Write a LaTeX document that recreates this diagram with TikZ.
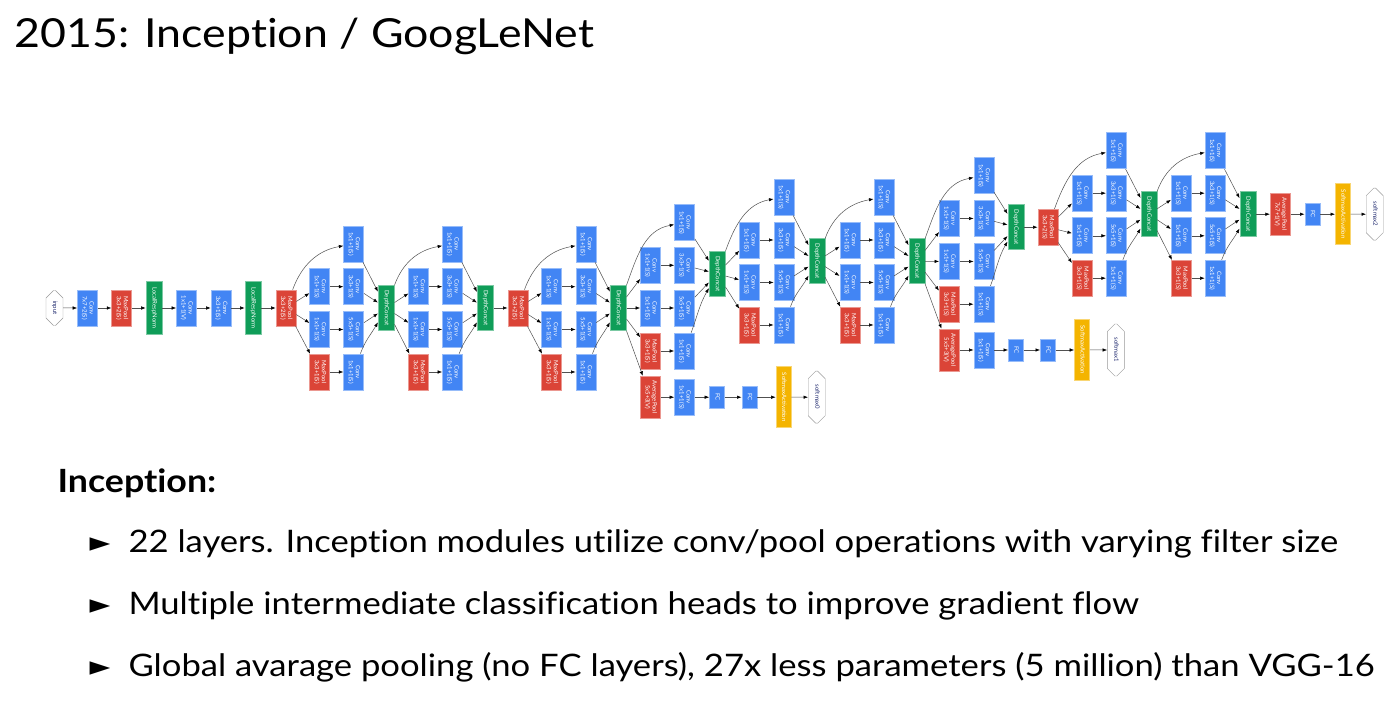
\documentclass[tikz,border=0pt]{standalone}
\usepackage{fontspec}
\setmainfont{Lato}
\newfontfamily\slidefont{Lato}[FakeStretch=1.117, Ligatures=NoCommon]
\newfontfamily\symfont{DejaVu Sans}
\usepackage{graphicx}
\usetikzlibrary{shapes.misc,arrows.meta,positioning}
\definecolor{convblue}{RGB}{66,133,244}
\definecolor{poolred}{RGB}{219,68,55}
\definecolor{concatgreen}{RGB}{15,157,88}
\definecolor{softyellow}{RGB}{244,180,0}
\definecolor{edgegray}{RGB}{80,80,80}
\definecolor{labelnavy}{RGB}{30,40,110}
\newcommand{\vlab}[1]{\rotatebox{-90}{\begin{tabular}{@{}c@{}}#1\end{tabular}}}

\begin{document}
\begin{tikzpicture}[x=1pt, y=1pt,
    layer/.style={rectangle, draw=#1!55!white, fill=#1, line width=0.6pt, text=white, inner sep=0pt, minimum width=20pt, minimum height=36pt, font=\fontsize{6}{7}\selectfont},
    conv/.style={layer=convblue},
    pool/.style={layer=poolred},
    avgpool/.style={layer=poolred, minimum height=42pt},
    concat/.style={layer=concatgreen, minimum width=16pt, minimum height=45pt},
    lrn/.style={layer=concatgreen, minimum width=16pt, minimum height=53pt},
    fc/.style={layer=convblue, minimum width=15pt, minimum height=22pt},
    softact/.style={layer=softyellow, minimum width=15pt, minimum height=61pt},
    blob/.style={chamfered rectangle, chamfered rectangle xsep=4pt, chamfered rectangle ysep=9pt, draw=black!40, fill=white, text=labelnavy, inner sep=0pt, minimum width=17pt, minimum height=52pt, font=\fontsize{6}{7}\selectfont},
    arrow/.style={-{Latex[length=4.5pt, width=3.4pt, color=black]}, draw=edgegray, line width=0.5pt},
    slide/.style={anchor=base west, font=\slidefont\fontsize{31}{36}\selectfont},
    bulletmark/.style={anchor=base west, font=\symfont\fontsize{27}{30}\selectfont}
  ]
    \useasboundingbox[fill=white] (0,0) rectangle (1395,720);

    % Slide text
    \node[anchor=base west, font=\slidefont\fontsize{40}{48}\selectfont] (title) at (11,672) {2015: Inception / GoogLeNet};
    \node[anchor=base west, font=\slidefont\fontsize{32}{36}\selectfont\bfseries] (head) at (54,227) {Inception:};
    \node[bulletmark] (mark1) at (86,168) {►};
    \node[slide] (point1) at (125,167) {22 layers. Inception modules utilize conv/pool operations with varying filter size};
    \node[bulletmark] (mark2) at (86,106) {►};
    \node[slide] (point2) at (125,105) {Multiple intermediate classification heads to improve gradient flow};
    \node[bulletmark] (mark3) at (86,44) {►};
    \node[slide] (point3) at (125,43) {Global avarage pooling (no FC layers), 27x less parameters (5 million) than VGG-16};

    % Stem
    \node[blob, minimum height=35pt] (input) at (54.5,412) {\vlab{input}};
    \node[conv] (conv1) at (87.5,412) {\vlab{Conv\\7x7+2(S)}};
    \node[pool] (pool1) at (121.7,412) {\vlab{MaxPool\\3x3+2(S)}};
    \node[lrn] (norm1) at (154,412) {\vlab{LocalRespNorm}};
    \node[conv] (conv2) at (186.5,412) {\vlab{Conv\\1x1+1(V)}};
    \node[conv] (conv3) at (221,412) {\vlab{Conv\\3x3+1(S)}};
    \node[lrn] (norm2) at (253,412) {\vlab{LocalRespNorm}};
    \node[pool] (pool2) at (286,412) {\vlab{MaxPool\\3x3+2(S)}};

    % Inception 3a
    \node[conv] (i3a-top) at (353.7,476) {\vlab{Conv\\1x1+1(S)}};
    \node[conv] (i3a-r3) at (319.7,433.3) {\vlab{Conv\\1x1+1(S)}};
    \node[conv] (i3a-c3) at (353.7,433.3) {\vlab{Conv\\3x3+1(S)}};
    \node[conv] (i3a-r5) at (319.7,390.5) {\vlab{Conv\\1x1+1(S)}};
    \node[conv] (i3a-c5) at (353.7,390.5) {\vlab{Conv\\5x5+1(S)}};
    \node[pool] (i3a-mp) at (319.7,348) {\vlab{MaxPool\\3x3+1(S)}};
    \node[conv] (i3a-pp) at (353.7,348) {\vlab{Conv\\1x1+1(S)}};
    \node[concat] (i3a-cat) at (386.2,412) {\vlab{DepthConcat}};

    % Inception 3b
    \node[conv] (i3b-top) at (452.5,476) {\vlab{Conv\\1x1+1(S)}};
    \node[conv] (i3b-r3) at (418.7,433.3) {\vlab{Conv\\1x1+1(S)}};
    \node[conv] (i3b-c3) at (452.5,433.3) {\vlab{Conv\\3x3+1(S)}};
    \node[conv] (i3b-r5) at (418.7,390.5) {\vlab{Conv\\1x1+1(S)}};
    \node[conv] (i3b-c5) at (452.5,390.5) {\vlab{Conv\\5x5+1(S)}};
    \node[pool] (i3b-mp) at (418.7,348) {\vlab{MaxPool\\3x3+1(S)}};
    \node[conv] (i3b-pp) at (452.5,348) {\vlab{Conv\\1x1+1(S)}};
    \node[concat] (i3b-cat) at (485.2,412) {\vlab{DepthConcat}};

    \node[pool] (pool3) at (517.8,412) {\vlab{MaxPool\\3x3+2(S)}};

    % Inception 4a
    \node[conv] (i4a-top) at (585.8,476) {\vlab{Conv\\1x1+1(S)}};
    \node[conv] (i4a-r3) at (551.7,433.3) {\vlab{Conv\\1x1+1(S)}};
    \node[conv] (i4a-c3) at (585.8,433.3) {\vlab{Conv\\3x3+1(S)}};
    \node[conv] (i4a-r5) at (551.7,390.5) {\vlab{Conv\\1x1+1(S)}};
    \node[conv] (i4a-c5) at (585.8,390.5) {\vlab{Conv\\5x5+1(S)}};
    \node[pool] (i4a-mp) at (551.7,348) {\vlab{MaxPool\\3x3+1(S)}};
    \node[conv] (i4a-pp) at (585.8,348) {\vlab{Conv\\1x1+1(S)}};
    \node[concat] (i4a-cat) at (618.2,412) {\vlab{DepthConcat}};

    % Inception 4b
    \node[conv] (i4b-top) at (684.5,497.2) {\vlab{Conv\\1x1+1(S)}};
    \node[conv] (i4b-r3) at (650.5,454.7) {\vlab{Conv\\1x1+1(S)}};
    \node[conv] (i4b-c3) at (684.5,454.7) {\vlab{Conv\\3x3+1(S)}};
    \node[conv] (i4b-r5) at (650.5,412) {\vlab{Conv\\1x1+1(S)}};
    \node[conv] (i4b-c5) at (684.5,412) {\vlab{Conv\\5x5+1(S)}};
    \node[pool] (i4b-mp) at (650.5,369) {\vlab{MaxPool\\3x3+1(S)}};
    \node[conv] (i4b-pp) at (684.5,369) {\vlab{Conv\\1x1+1(S)}};
    \node[concat] (i4b-cat) at (717.2,446.2) {\vlab{DepthConcat}};

    % First side head
    \node[avgpool] (aux0-pool) at (650.5,322.8) {\vlab{AveragePool\\5x5+3(V)}};
    \node[conv] (aux0-conv) at (684.5,322.8) {\vlab{Conv\\1x1+1(S)}};
    \node[fc] (aux0-fc1) at (717,322.8) {\vlab{FC}};
    \node[fc] (aux0-fc2) at (749.3,322.8) {\vlab{FC}};
    \node[softact] (aux0-act) at (783.5,322.8) {\vlab{SoftmaxActivation}};
    \node[blob] (softmax0) at (816.7,322.8) {\vlab{softmax0}};

    % Inception 4c
    \node[conv] (i4c-top) at (783.8,522.8) {\vlab{Conv\\1x1+1(S)}};
    \node[conv] (i4c-r3) at (749.5,480) {\vlab{Conv\\1x1+1(S)}};
    \node[conv] (i4c-c3) at (783.8,480) {\vlab{Conv\\3x3+1(S)}};
    \node[conv] (i4c-r5) at (749.5,437.5) {\vlab{Conv\\1x1+1(S)}};
    \node[conv] (i4c-c5) at (783.8,437.5) {\vlab{Conv\\5x5+1(S)}};
    \node[pool] (i4c-mp) at (749.5,395) {\vlab{MaxPool\\3x3+1(S)}};
    \node[conv] (i4c-pp) at (783.8,395) {\vlab{Conv\\1x1+1(S)}};
    \node[concat] (i4c-cat) at (816.8,458.7) {\vlab{DepthConcat}};

    % Inception 4d
    \node[conv] (i4d-top) at (883.8,522.8) {\vlab{Conv\\1x1+1(S)}};
    \node[conv] (i4d-r3) at (849.8,480) {\vlab{Conv\\1x1+1(S)}};
    \node[conv] (i4d-c3) at (883.8,480) {\vlab{Conv\\3x3+1(S)}};
    \node[conv] (i4d-r5) at (849.8,437.5) {\vlab{Conv\\1x1+1(S)}};
    \node[conv] (i4d-c5) at (883.8,437.5) {\vlab{Conv\\5x5+1(S)}};
    \node[pool] (i4d-mp) at (849.8,395) {\vlab{MaxPool\\3x3+1(S)}};
    \node[conv] (i4d-pp) at (883.8,395) {\vlab{Conv\\1x1+1(S)}};
    \node[concat] (i4d-cat) at (916.8,458.7) {\vlab{DepthConcat}};

    % Inception 4e
    \node[conv] (i4e-top) at (983.8,544.2) {\vlab{Conv\\1x1+1(S)}};
    \node[conv] (i4e-r3) at (949.3,501.5) {\vlab{Conv\\1x1+1(S)}};
    \node[conv] (i4e-c3) at (983.8,501.5) {\vlab{Conv\\3x3+1(S)}};
    \node[conv] (i4e-r5) at (949.3,458.5) {\vlab{Conv\\1x1+1(S)}};
    \node[conv] (i4e-c5) at (983.8,458.5) {\vlab{Conv\\5x5+1(S)}};
    \node[pool] (i4e-mp) at (949.3,415.8) {\vlab{MaxPool\\3x3+1(S)}};
    \node[conv] (i4e-pp) at (983.8,415.8) {\vlab{Conv\\1x1+1(S)}};
    \node[concat] (i4e-cat) at (1015.8,492.8) {\vlab{DepthConcat}};

    % Second side head
    \node[avgpool] (aux1-pool) at (949.3,370) {\vlab{AveragePool\\5x5+3(V)}};
    \node[conv] (aux1-conv) at (983.8,370) {\vlab{Conv\\1x1+1(S)}};
    \node[fc] (aux1-fc1) at (1015.8,370) {\vlab{FC}};
    \node[fc] (aux1-fc2) at (1047.8,370) {\vlab{FC}};
    \node[softact] (aux1-act) at (1082,370) {\vlab{SoftmaxActivation}};
    \node[blob] (softmax1) at (1115.8,370) {\vlab{softmax1}};

    \node[pool] (pool4) at (1047.8,492.8) {\vlab{MaxPool\\3x3+2(S)}};

    % Inception 5a
    \node[conv] (i5a-top) at (1116.2,569.2) {\vlab{Conv\\1x1+1(S)}};
    \node[conv] (i5a-r3) at (1082.2,526.8) {\vlab{Conv\\1x1+1(S)}};
    \node[conv] (i5a-c3) at (1116.2,526.8) {\vlab{Conv\\3x3+1(S)}};
    \node[conv] (i5a-r5) at (1082.2,484.2) {\vlab{Conv\\1x1+1(S)}};
    \node[conv] (i5a-c5) at (1116.2,484.2) {\vlab{Conv\\5x5+1(S)}};
    \node[pool] (i5a-mp) at (1082.2,441.8) {\vlab{MaxPool\\3x3+1(S)}};
    \node[conv] (i5a-pp) at (1116.2,441.8) {\vlab{Conv\\1x1+1(S)}};
    \node[concat] (i5a-cat) at (1148.8,505.8) {\vlab{DepthConcat}};

    % Inception 5b
    \node[conv] (i5b-top) at (1215,569.2) {\vlab{Conv\\1x1+1(S)}};
    \node[conv] (i5b-r3) at (1181.2,526.8) {\vlab{Conv\\1x1+1(S)}};
    \node[conv] (i5b-c3) at (1215,526.8) {\vlab{Conv\\3x3+1(S)}};
    \node[conv] (i5b-r5) at (1181.2,484.2) {\vlab{Conv\\1x1+1(S)}};
    \node[conv] (i5b-c5) at (1215,484.2) {\vlab{Conv\\5x5+1(S)}};
    \node[pool] (i5b-mp) at (1181.2,441.8) {\vlab{MaxPool\\3x3+1(S)}};
    \node[conv] (i5b-pp) at (1215,441.8) {\vlab{Conv\\1x1+1(S)}};
    \node[concat] (i5b-cat) at (1247.8,505.8) {\vlab{DepthConcat}};

    % Main head
    \node[avgpool] (pool5) at (1280.2,505.8) {\vlab{AveragePool\\7x7+1(V)}};
    \node[fc] (fc) at (1312.3,505.8) {\vlab{FC}};
    \node[softact] (act) at (1342.8,505.8) {\vlab{SoftmaxActivation}};
    \node[blob] (softmax2) at (1374.7,505.8) {\vlab{softmax2}};

    % Connections: stem
    \draw[arrow] (input) -- (conv1);
    \draw[arrow] (conv1) -- (pool1);
    \draw[arrow] (pool1) -- (norm1);
    \draw[arrow] (norm1) -- (conv2);
    \draw[arrow] (conv2) -- (conv3);
    \draw[arrow] (conv3) -- (norm2);
    \draw[arrow] (norm2) -- (pool2);

    % Connections: 3a
    \draw[arrow] (pool2) to[out=70, in=190] (i3a-top);
    \draw[arrow] (pool2) -- (i3a-r3);
    \draw[arrow] (pool2) -- (i3a-r5);
    \draw[arrow] (pool2) -- (i3a-mp);
    \draw[arrow] (i3a-r3) -- (i3a-c3);
    \draw[arrow] (i3a-r5) -- (i3a-c5);
    \draw[arrow] (i3a-mp) -- (i3a-pp);
    \draw[arrow] (i3a-top) -- (i3a-cat);
    \draw[arrow] (i3a-c3) -- (i3a-cat);
    \draw[arrow] (i3a-c5) -- (i3a-cat);
    \draw[arrow] (i3a-pp) to[out=70, in=240] (i3a-cat);

    % Connections: 3b
    \draw[arrow] (i3a-cat) to[out=70, in=190] (i3b-top);
    \draw[arrow] (i3a-cat) -- (i3b-r3);
    \draw[arrow] (i3a-cat) -- (i3b-r5);
    \draw[arrow] (i3a-cat) -- (i3b-mp);
    \draw[arrow] (i3b-r3) -- (i3b-c3);
    \draw[arrow] (i3b-r5) -- (i3b-c5);
    \draw[arrow] (i3b-mp) -- (i3b-pp);
    \draw[arrow] (i3b-top) -- (i3b-cat);
    \draw[arrow] (i3b-c3) -- (i3b-cat);
    \draw[arrow] (i3b-c5) -- (i3b-cat);
    \draw[arrow] (i3b-pp) to[out=70, in=240] (i3b-cat);
    \draw[arrow] (i3b-cat) -- (pool3);

    % Connections: 4a
    \draw[arrow] (pool3) to[out=70, in=190] (i4a-top);
    \draw[arrow] (pool3) -- (i4a-r3);
    \draw[arrow] (pool3) -- (i4a-r5);
    \draw[arrow] (pool3) -- (i4a-mp);
    \draw[arrow] (i4a-r3) -- (i4a-c3);
    \draw[arrow] (i4a-r5) -- (i4a-c5);
    \draw[arrow] (i4a-mp) -- (i4a-pp);
    \draw[arrow] (i4a-top) -- (i4a-cat);
    \draw[arrow] (i4a-c3) -- (i4a-cat);
    \draw[arrow] (i4a-c5) -- (i4a-cat);
    \draw[arrow] (i4a-pp) to[out=70, in=240] (i4a-cat);

    % Connections: 4b and first side head
    \draw[arrow] (i4a-cat) to[out=70, in=190] (i4b-top);
    \draw[arrow] (i4a-cat) -- (i4b-r3);
    \draw[arrow] (i4a-cat) -- (i4b-r5);
    \draw[arrow] (i4a-cat) -- (i4b-mp);
    \draw[arrow] (i4a-cat) -- (aux0-pool);
    \draw[arrow] (i4b-r3) -- (i4b-c3);
    \draw[arrow] (i4b-r5) -- (i4b-c5);
    \draw[arrow] (i4b-mp) -- (i4b-pp);
    \draw[arrow] (i4b-top) -- (i4b-cat);
    \draw[arrow] (i4b-c3) -- (i4b-cat);
    \draw[arrow] (i4b-c5) -- (i4b-cat);
    \draw[arrow] (i4b-pp) to[out=70, in=240] (i4b-cat);
    \draw[arrow] (aux0-pool) -- (aux0-conv);
    \draw[arrow] (aux0-conv) -- (aux0-fc1);
    \draw[arrow] (aux0-fc1) -- (aux0-fc2);
    \draw[arrow] (aux0-fc2) -- (aux0-act);
    \draw[arrow] (aux0-act) -- (softmax0);

    % Connections: 4c
    \draw[arrow] (i4b-cat) to[out=70, in=190] (i4c-top);
    \draw[arrow] (i4b-cat) -- (i4c-r3);
    \draw[arrow] (i4b-cat) -- (i4c-r5);
    \draw[arrow] (i4b-cat) -- (i4c-mp);
    \draw[arrow] (i4c-r3) -- (i4c-c3);
    \draw[arrow] (i4c-r5) -- (i4c-c5);
    \draw[arrow] (i4c-mp) -- (i4c-pp);
    \draw[arrow] (i4c-top) -- (i4c-cat);
    \draw[arrow] (i4c-c3) -- (i4c-cat);
    \draw[arrow] (i4c-c5) -- (i4c-cat);
    \draw[arrow] (i4c-pp) to[out=70, in=240] (i4c-cat);

    % Connections: 4d
    \draw[arrow] (i4c-cat) to[out=70, in=190] (i4d-top);
    \draw[arrow] (i4c-cat) -- (i4d-r3);
    \draw[arrow] (i4c-cat) -- (i4d-r5);
    \draw[arrow] (i4c-cat) -- (i4d-mp);
    \draw[arrow] (i4d-r3) -- (i4d-c3);
    \draw[arrow] (i4d-r5) -- (i4d-c5);
    \draw[arrow] (i4d-mp) -- (i4d-pp);
    \draw[arrow] (i4d-top) -- (i4d-cat);
    \draw[arrow] (i4d-c3) -- (i4d-cat);
    \draw[arrow] (i4d-c5) -- (i4d-cat);
    \draw[arrow] (i4d-pp) to[out=70, in=240] (i4d-cat);

    % Connections: 4e and second side head
    \draw[arrow] (i4d-cat) to[out=70, in=190] (i4e-top);
    \draw[arrow] (i4d-cat) -- (i4e-r3);
    \draw[arrow] (i4d-cat) -- (i4e-r5);
    \draw[arrow] (i4d-cat) -- (i4e-mp);
    \draw[arrow] (i4d-cat) -- (aux1-pool);
    \draw[arrow] (i4e-r3) -- (i4e-c3);
    \draw[arrow] (i4e-r5) -- (i4e-c5);
    \draw[arrow] (i4e-mp) -- (i4e-pp);
    \draw[arrow] (i4e-top) -- (i4e-cat);
    \draw[arrow] (i4e-c3) -- (i4e-cat);
    \draw[arrow] (i4e-c5) -- (i4e-cat);
    \draw[arrow] (i4e-pp) to[out=70, in=240] (i4e-cat);
    \draw[arrow] (aux1-pool) -- (aux1-conv);
    \draw[arrow] (aux1-conv) -- (aux1-fc1);
    \draw[arrow] (aux1-fc1) -- (aux1-fc2);
    \draw[arrow] (aux1-fc2) -- (aux1-act);
    \draw[arrow] (aux1-act) -- (softmax1);
    \draw[arrow] (i4e-cat) -- (pool4);

    % Connections: 5a
    \draw[arrow] (pool4) to[out=70, in=190] (i5a-top);
    \draw[arrow] (pool4) -- (i5a-r3);
    \draw[arrow] (pool4) -- (i5a-r5);
    \draw[arrow] (pool4) -- (i5a-mp);
    \draw[arrow] (i5a-r3) -- (i5a-c3);
    \draw[arrow] (i5a-r5) -- (i5a-c5);
    \draw[arrow] (i5a-mp) -- (i5a-pp);
    \draw[arrow] (i5a-top) -- (i5a-cat);
    \draw[arrow] (i5a-c3) -- (i5a-cat);
    \draw[arrow] (i5a-c5) -- (i5a-cat);
    \draw[arrow] (i5a-pp) to[out=70, in=240] (i5a-cat);

    % Connections: 5b and main head
    \draw[arrow] (i5a-cat) to[out=70, in=190] (i5b-top);
    \draw[arrow] (i5a-cat) -- (i5b-r3);
    \draw[arrow] (i5a-cat) -- (i5b-r5);
    \draw[arrow] (i5a-cat) -- (i5b-mp);
    \draw[arrow] (i5b-r3) -- (i5b-c3);
    \draw[arrow] (i5b-r5) -- (i5b-c5);
    \draw[arrow] (i5b-mp) -- (i5b-pp);
    \draw[arrow] (i5b-top) -- (i5b-cat);
    \draw[arrow] (i5b-c3) -- (i5b-cat);
    \draw[arrow] (i5b-c5) -- (i5b-cat);
    \draw[arrow] (i5b-pp) to[out=70, in=240] (i5b-cat);
    \draw[arrow] (i5b-cat) -- (pool5);
    \draw[arrow] (pool5) -- (fc);
    \draw[arrow] (fc) -- (act);
    \draw[arrow] (act) -- (softmax2);
  \end{tikzpicture}
\end{document}
